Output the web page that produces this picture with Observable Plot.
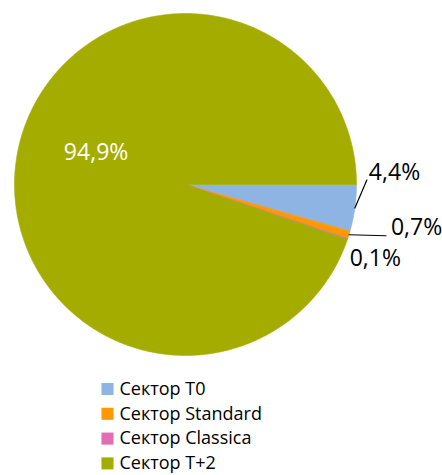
<!DOCTYPE html>
<html>
<head>
<meta charset="utf-8">
<script src="https://cdn.jsdelivr.net/npm/d3@7"></script>
<script src="https://cdn.jsdelivr.net/npm/@observablehq/plot@0.6"></script>
<style>
  html, body { margin: 0; padding: 0; background: #fff; }
  svg { display: block; }
</style>
</head>
<body>
<div id="chart"></div>
<script>
const categories = ["Сектор T0", "Сектор Standard", "Сектор Classica", "Сектор T+2"];
const values = [4.4, 0.7, 0.1, 94.9];
const labels = ["4,4%", "0,7%", "0,1%", "94,9%"];
const colors = ["#8EB4E3", "#FF9900", "#E46CB4", "#A5AC00"];

const W = 442, H = 475;
const cx = 185, cy = 184, R = 171;

const arcs = d3.pie().sort(null).value(d => d.value)
  .startAngle(Math.PI / 2).endAngle(Math.PI / 2 + 2 * Math.PI)(
    categories.map((c, i) => ({cat: c, value: values[i], label: labels[i], i}))
  );

const pt = (a, r) => [cx + r * Math.sin(a), cy - r * Math.cos(a)];

// polygon points for slices
const slicePts = [];
for (const a of arcs) {
  const n = Math.max(2, Math.ceil((a.endAngle - a.startAngle) / 0.005));
  slicePts.push({cat: a.data.cat, x: cx, y: cy});
  for (let k = 0; k <= n; k++) {
    const ang = a.startAngle + (a.endAngle - a.startAngle) * k / n;
    const [x, y] = pt(ang, R);
    slicePts.push({cat: a.data.cat, x, y});
  }
  slicePts.push({cat: a.data.cat, x: cx, y: cy});
}

// label layout (placement offsets relative to the slice's mid-angle edge point)
const mid = a => (a.startAngle + a.endAngle) / 2;
const labelLayout = [
  {r: R, dx: 14, dy: -35, anchor: "start", leader: [12, -28]},
  {r: R, dx: 42, dy: -7, anchor: "start", leader: [37, 1]},
  {r: R, dx: 2, dy: 20, anchor: "start", leader: null},
  {r: R * 0.53, dx: 0, dy: -17, anchor: "middle", leader: null}
];
const labelData = arcs.map((a, i) => {
  const L = labelLayout[i];
  const [x, y] = pt(mid(a), L.r);
  return {label: a.data.label, x: x + L.dx, y: y + L.dy, anchor: L.anchor, inside: i === 3};
});
const leaderPts = [];
arcs.forEach((a, i) => {
  const L = labelLayout[i];
  if (!L.leader) return;
  const [x, y] = pt(mid(a), R);
  leaderPts.push({k: i, x, y});
  leaderPts.push({k: i, x: x + L.leader[0], y: y + L.leader[1]});
});

const legendData = categories.map((c, i) => ({cat: c, row: i}));
const legY = row => 388.5 + row * 24.8;

const chart = Plot.plot({
  width: W, height: H,
  margin: 0,
  style: {fontFamily: "'Open Sans', sans-serif", background: "#fff"},
  x: {domain: [0, W], range: [0, W], axis: null},
  y: {domain: [0, H], range: [0, H], axis: null},
  color: {domain: categories, range: colors},
  marks: [
    Plot.line(slicePts, {x: "x", y: "y", z: "cat", fill: "cat", stroke: "cat", strokeWidth: 0.6}),
    Plot.line(leaderPts, {x: "x", y: "y", z: "k", stroke: "#000", strokeWidth: 1.2}),
    Plot.text(labelData.filter(d => !d.inside), {x: "x", y: "y", text: "label", textAnchor: "start", fontSize: 23, fill: "#000"}),
    Plot.text(labelData.filter(d => d.inside), {x: "x", y: "y", text: "label", textAnchor: "middle", fontSize: 23, fill: "#fff"}),
    Plot.dot(legendData, {x: () => 107, y: d => legY(d.row), symbol: "square", r: 6.8, fill: "cat", stroke: null}),
    Plot.text(legendData, {x: () => 119, y: d => legY(d.row), text: "cat", textAnchor: "start", fontSize: 18, fill: "#000"})
  ]
});
document.getElementById("chart").append(chart);
</script>
</body>
</html>
